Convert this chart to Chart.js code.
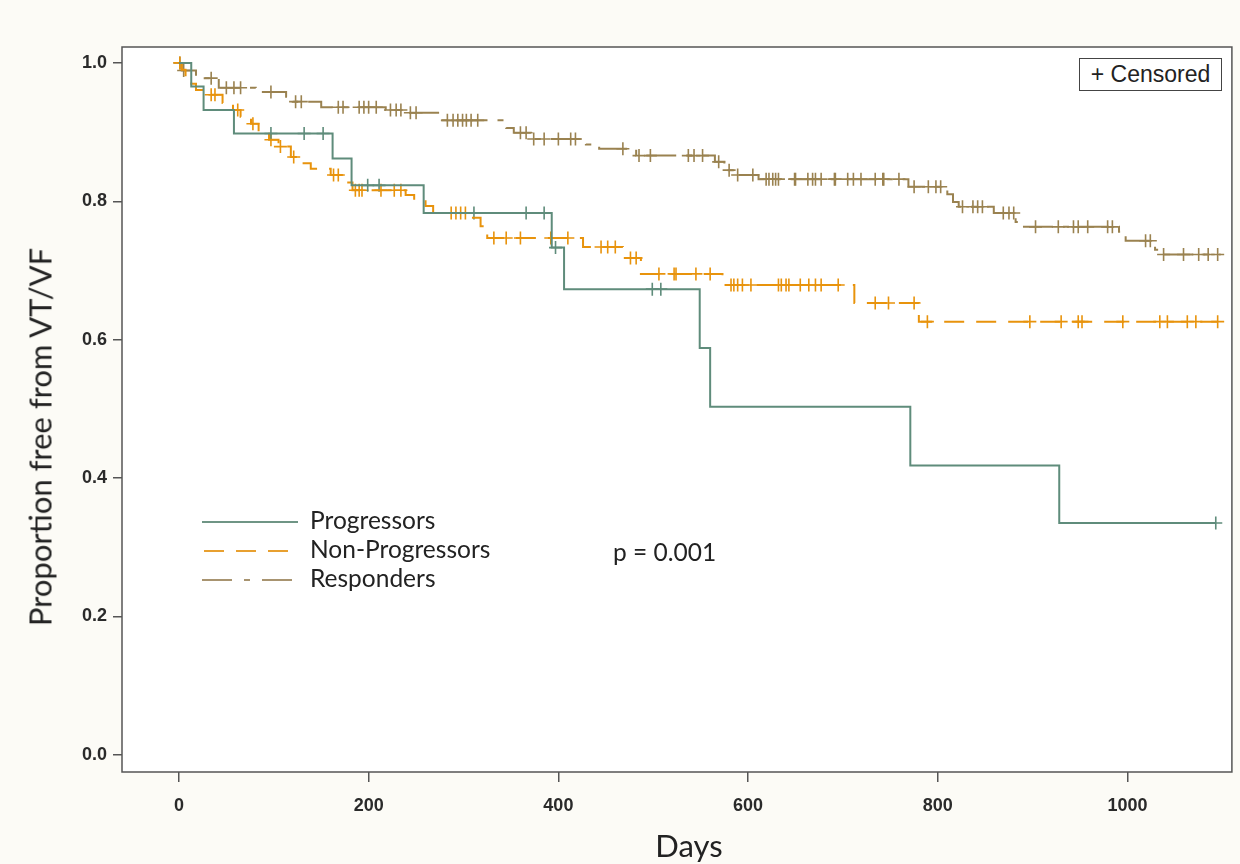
<!DOCTYPE html>
<html lang="en">
<head>
<meta charset="UTF-8" />
<title>Proportion free from VT/VF</title>
<script src="https://cdn.jsdelivr.net/npm/chart.js"></script>
<style>
  body {
    margin: 0;
    background: #fcfbf6;
    font-family: Lato, "Open Sans", sans-serif;
  }
  .wrap {
    position: relative;
    width: 1240px;
    height: 864px;
  }
  canvas { display: block; }
  .txt {
    position: absolute;
    color: #222;
    white-space: nowrap;
    line-height: 1;
  }
  .ytitle {
    left: 40px;
    top: 437px;
    font-size: 31px;
    transform: translate(-50%, -50%) rotate(-90deg);
  }
  .xtitle {
    left: 689px;
    top: 845px;
    font-size: 31px;
    transform: translate(-50%, -50%);
  }
  .leg { font-size: 24.5px; left: 310px; transform: translateY(-50%); }
  .censbox {
    position: absolute;
    left: 1079px;
    top: 58px;
    width: 143px;
    height: 33px;
    border: 1.5px solid #444;
    box-sizing: border-box;
    font-family: "Liberation Sans", Arial, sans-serif;
    font-size: 23px;
    line-height: 30px;
    text-align: center;
    color: #222;
    background: #fff;
  }
</style>
</head>
<body>
<div class="wrap">
  <canvas id="km" width="1240" height="864"></canvas>
  <div class="txt ytitle">Proportion free from VT/VF</div>
  <div class="txt xtitle">Days</div>
  <div class="censbox">+ Censored</div>
  <svg style="position:absolute;left:0;top:0" width="1240" height="864">
    <line x1="202" y1="522" x2="298" y2="522" stroke="#6f9585" stroke-width="2"/>
    <line x1="204" y1="551" x2="298" y2="551" stroke="#e8a030" stroke-width="2" stroke-dasharray="20 12"/>
    <line x1="202" y1="580" x2="298" y2="580" stroke="#a89470" stroke-width="2" stroke-dasharray="30 12 6 12"/>
  </svg>
  <div class="txt leg" style="top:520px">Progressors</div>
  <div class="txt leg" style="top:549px">Non-Progressors</div>
  <div class="txt leg" style="top:578px">Responders</div>
  <div class="txt leg" style="left:613px;top:552px">p = 0.001</div>
</div>

<script>
  // Kaplan-Meier step points (day, proportion free from VT/VF)
  const progTimes = [0, 13, 26, 58, 162, 182, 258, 393, 406, 549, 560, 771, 928, 1093];
  const progSurv = [1.0, 0.966, 0.932, 0.898, 0.862, 0.823, 0.783, 0.733, 0.673, 0.588, 0.503, 0.418, 0.335, 0.335];
  const progCens = [97, 132, 152, 199, 211, 311, 366, 385, 397, 499, 508, 1093];

  const nonTimes = [0, 3, 7, 13, 18, 28, 46, 57, 65, 76, 84, 95, 105, 118, 129, 139, 160, 176, 183, 239, 248, 260, 268,
    308, 318, 325, 426, 468, 487, 573, 712, 780, 1095];
  const nonSurv = [1.0, 0.990, 0.980, 0.970, 0.961, 0.954, 0.942, 0.932, 0.922, 0.912, 0.900, 0.889, 0.879, 0.864, 0.855,
    0.847, 0.838, 0.827, 0.816, 0.809, 0.802, 0.793, 0.783, 0.776, 0.764, 0.747, 0.734, 0.718, 0.695, 0.679, 0.653,
    0.626, 0.626];
  const nonCens = [1, 34, 38, 62, 78, 97, 107, 121, 163, 168, 186, 190, 193, 213, 227, 234, 287, 292, 297, 302,
    332, 345, 360, 392, 410, 445, 452, 460, 476, 482, 506, 522, 524, 545, 560, 582, 585, 589, 594, 603,
    632, 635, 640, 643, 655, 664, 671, 677, 695, 734, 748, 775, 789, 897, 930, 948, 952, 995, 1034, 1042,
    1063, 1072, 1095];

  const respTimes = [0, 3, 18, 42, 81, 113, 120, 150, 218, 239, 276, 345, 353, 371, 429, 443, 482, 565, 575, 587, 611,
    769, 810, 816, 822, 859, 882, 889, 991, 998, 1029, 1035, 1098];
  const respSurv = [1.0, 0.989, 0.978, 0.964, 0.958, 0.951, 0.944, 0.936, 0.932, 0.928, 0.917, 0.906, 0.899, 0.890,
    0.882, 0.876, 0.866, 0.857, 0.845, 0.838, 0.832, 0.821, 0.810, 0.799, 0.792, 0.783, 0.770, 0.763, 0.756,
    0.743, 0.730, 0.723, 0.723];
  const respCens = [1, 5, 34, 50, 58, 65, 97, 123, 129, 168, 173, 190, 195, 200, 208, 223, 229, 234, 244, 250,
    283, 289, 294, 299, 303, 308, 315, 360, 366, 374, 385, 400, 413, 418, 468, 485, 497, 537, 543, 552,
    569, 580, 589, 605, 619, 622, 626, 629, 632, 649, 650, 663, 668, 671, 677, 691, 692, 705, 711, 719,
    734, 742, 743, 759, 775, 790, 798, 803, 826, 837, 842, 847, 869, 875, 880, 903, 927, 943, 948, 958,
    979, 984, 1019, 1024, 1038, 1059, 1075, 1085, 1095];

  const xTicks = [0, 200, 400, 600, 800, 1000];
  const yTicks = [0, 0.2, 0.4, 0.6, 0.8, 1.0];

  const GREEN = '#5f8c7b';
  const ORANGE = '#e8930c';
  const BROWN = '#9a8250';

  function curve(times, surv) {
    return times.map((t, i) => ({ x: t, y: surv[i] }));
  }

  // a censored subject sits on its group's curve at that day
  function censMarks(times, surv, cens) {
    return cens.map(t => {
      let s = surv[0];
      for (let i = 0; i < times.length; i++) if (times[i] <= t) s = surv[i];
      return { x: t, y: s };
    });
  }

  function lineSet(label, data, color, dash) {
    return {
      label: label,
      data: data,
      borderColor: color,
      borderWidth: 2,
      borderDash: dash,
      stepped: 'before',
      pointRadius: 0,
      fill: false
    };
  }

  function censSet(label, data, color) {
    return {
      label: label,
      data: data,
      showLine: false,
      pointStyle: 'cross',
      pointRadius: 6.5,
      borderColor: color,
      backgroundColor: color,
      pointBorderWidth: 1.6
    };
  }

  const framePlugin = {
    id: 'frame',
    beforeDraw(chart) {
      const a = chart.chartArea;
      const ctx = chart.ctx;
      ctx.save();
      ctx.fillStyle = '#ffffff';
      ctx.fillRect(a.left, a.top, a.right - a.left, a.bottom - a.top);
      ctx.restore();
    },
    afterDraw(chart) {
      const a = chart.chartArea;
      const ctx = chart.ctx;
      ctx.save();
      ctx.strokeStyle = '#555';
      ctx.lineWidth = 1.5;
      ctx.strokeRect(a.left, a.top, a.right - a.left, a.bottom - a.top);
      ctx.restore();
    }
  };

  const tickFont = { family: '"Liberation Sans", Arial, sans-serif', size: 18, weight: 'bold' };

  new Chart(document.getElementById('km'), {
    type: 'line',
    data: {
      datasets: [
        lineSet('Progressors', curve(progTimes, progSurv), GREEN, []),
        lineSet('Non-Progressors', curve(nonTimes, nonSurv), ORANGE, [20, 12]),
        lineSet('Responders', curve(respTimes, respSurv), BROWN, [30, 10, 6, 10]),
        censSet('Progressors censored', censMarks(progTimes, progSurv, progCens), GREEN),
        censSet('Non-Progressors censored', censMarks(nonTimes, nonSurv, nonCens), ORANGE),
        censSet('Responders censored', censMarks(respTimes, respSurv, respCens), BROWN)
      ]
    },
    options: {
      responsive: false,
      animation: false,
      layout: { padding: { top: 47, right: 8, left: 0, bottom: 0 } },
      plugins: {
        legend: { display: false },
        tooltip: { enabled: false }
      },
      scales: {
        x: {
          type: 'linear',
          min: -60,
          max: 1110,
          afterFit: s => { s.height = 92; },
          afterBuildTicks: s => { s.ticks = xTicks.map(v => ({ value: v })); },
          grid: { drawOnChartArea: false, tickLength: 10, color: '#555', lineWidth: 1.5 },
          border: { display: false },
          ticks: {
            padding: 13,
            color: '#2a2a2a',
            font: tickFont,
            maxRotation: 0,
            callback: v => String(v)
          }
        },
        y: {
          type: 'linear',
          min: -0.025,
          max: 1.023,
          afterFit: s => { s.width = 122; },
          afterBuildTicks: s => { s.ticks = yTicks.map(v => ({ value: v })); },
          grid: { drawOnChartArea: false, tickLength: 9, color: '#555', lineWidth: 1.5 },
          border: { display: false },
          ticks: {
            padding: 6,
            color: '#2a2a2a',
            font: tickFont,
            callback: v => v.toFixed(1)
          }
        }
      }
    },
    plugins: [framePlugin]
  });
</script>
</body>
</html>
